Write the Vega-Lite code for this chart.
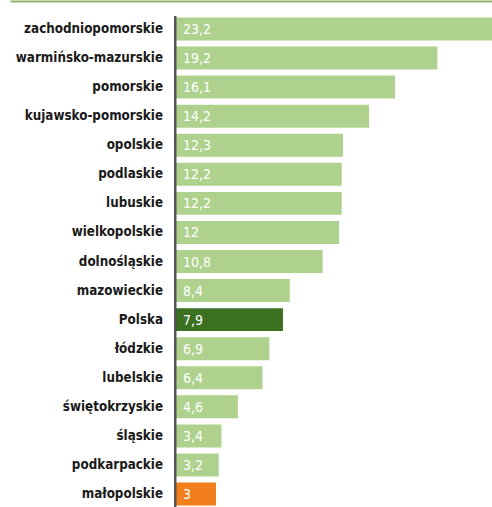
{
  "$schema": "https://vega.github.io/schema/vega-lite/v6.json",
  "width": 482,
  "height": 491,
  "autosize": "none",
  "padding": {"left": 10, "top": 16, "right": 0, "bottom": 0},
  "background": "white",
  "config": {"view": {"stroke": null}},
  "data": {"values": [
    {"region": "zachodniopomorskie", "value": 23.2, "label": "23,2", "type": "region"},
    {"region": "warmińsko-mazurskie", "value": 19.2, "label": "19,2", "type": "region"},
    {"region": "pomorskie", "value": 16.1, "label": "16,1", "type": "region"},
    {"region": "kujawsko-pomorskie", "value": 14.2, "label": "14,2", "type": "region"},
    {"region": "opolskie", "value": 12.3, "label": "12,3", "type": "region"},
    {"region": "podlaskie", "value": 12.2, "label": "12,2", "type": "region"},
    {"region": "lubuskie", "value": 12.2, "label": "12,2", "type": "region"},
    {"region": "wielkopolskie", "value": 12, "label": "12", "type": "region"},
    {"region": "dolnośląskie", "value": 10.8, "label": "10,8", "type": "region"},
    {"region": "mazowieckie", "value": 8.4, "label": "8,4", "type": "region"},
    {"region": "Polska", "value": 7.9, "label": "7,9", "type": "country"},
    {"region": "łódzkie", "value": 6.9, "label": "6,9", "type": "region"},
    {"region": "lubelskie", "value": 6.4, "label": "6,4", "type": "region"},
    {"region": "świętokrzyskie", "value": 4.6, "label": "4,6", "type": "region"},
    {"region": "śląskie", "value": 3.4, "label": "3,4", "type": "region"},
    {"region": "podkarpackie", "value": 3.2, "label": "3,2", "type": "region"},
    {"region": "małopolskie", "value": 3, "label": "3", "type": "min"}
  ]},
  "encoding": {
    "y": {"field": "region", "type": "nominal", "sort": null,
          "scale": {"paddingInner": 0.21, "paddingOuter": 0.05},
          "axis": null}
  },
  "layer": [
    {
      "mark": {"type": "bar"},
      "encoding": {
        "x": {"field": "value", "type": "quantitative",
              "scale": {"domain": [-12.08, 23.2], "nice": false, "zero": false},
              "axis": {"orient": "top", "labels": false, "ticks": false, "grid": false, "title": null,
                       "domain": true, "domainColor": "#8DB36E", "domainWidth": 2, "offset": 15}},
        "x2": {"datum": 0},
        "color": {"field": "type", "type": "nominal",
                  "scale": {"domain": ["region", "country", "min"], "range": ["#AED28E", "#3B7020", "#F07F1C"]},
                  "legend": null}
      }
    },
    {
      "mark": {"type": "rule", "color": "#555555", "strokeWidth": 2},
      "encoding": {"x": {"datum": 0}, "y": null}
    },
    {
      "mark": {"type": "text", "align": "right", "baseline": "middle", "dx": -12,
               "font": "DejaVu Sans Condensed, sans-serif", "fontWeight": "bold", "fontSize": 13.3, "color": "#1a1a1a"},
      "encoding": {"x": {"datum": 0}, "text": {"field": "region"}}
    },
    {
      "mark": {"type": "text", "align": "left", "baseline": "middle", "dx": 8, "dy": 1,
               "font": "DejaVu Sans Condensed, sans-serif", "fontSize": 14, "color": "white"},
      "encoding": {"x": {"datum": 0}, "text": {"field": "label"}}
    }
  ]
}
